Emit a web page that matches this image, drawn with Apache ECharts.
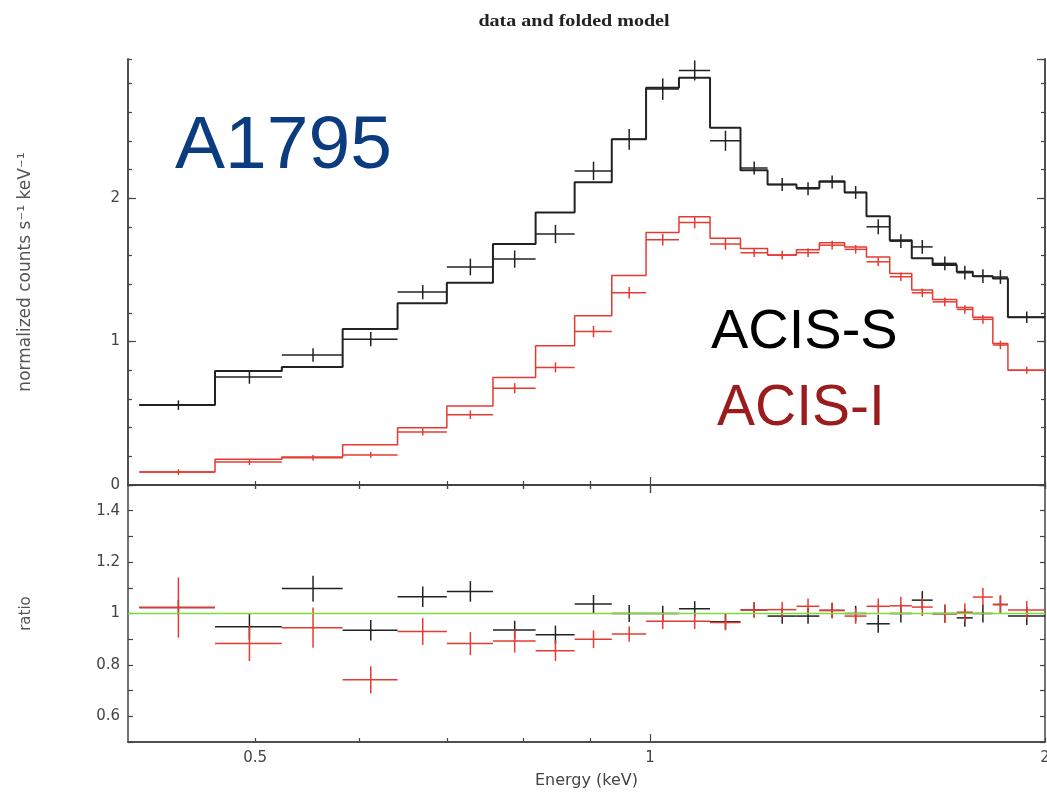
<!DOCTYPE html>
<html>
<head>
<meta charset="utf-8">
<script src="https://cdn.jsdelivr.net/npm/echarts@6/dist/echarts.min.js"></script>
<style>
  html, body { margin: 0; background: #fff; }
  #main { width: 1047px; height: 794px; }
</style>
</head>
<body>
<div id="main"></div>
<script>
// bin edges (keV)
const energyEdges = [0.408, 0.466, 0.524, 0.583, 0.642, 0.700, 0.759, 0.818, 0.876, 0.935,
  0.993, 1.052, 1.111, 1.172, 1.229, 1.293, 1.346, 1.407, 1.462, 1.523,
  1.583, 1.642, 1.713, 1.762, 1.825, 1.874, 2.0];
const energyRange = [0.4, 2];

// ACIS-S (black)
const acisSModel = [0.557, 0.794, 0.822, 1.087, 1.268, 1.41, 1.68, 1.90, 2.11, 2.41,
  2.77, 2.84, 2.49, 2.195, 2.095, 2.07, 2.118, 2.04, 1.874, 1.707,
  1.58, 1.533, 1.486, 1.456, 1.44, 1.169];
const acisSData = [0.557, 0.753, 0.906, 1.017, 1.345, 1.52, 1.575, 1.75, 2.19, 2.41,
  2.76, 2.89, 2.40, 2.21, 2.095, 2.065, 2.113, 2.04, 1.80, 1.70,
  1.66, 1.545, 1.48, 1.456, 1.45, 1.169];
const acisSErr = [0.033, 0.047, 0.047, 0.05, 0.05, 0.058, 0.06, 0.064, 0.064, 0.072,
  0.075, 0.07, 0.07, 0.045, 0.045, 0.045, 0.045, 0.045, 0.052, 0.048,
  0.048, 0.048, 0.048, 0.048, 0.048, 0.04];

// ACIS-I (red)
const acisIModel = [0.09, 0.18, 0.195, 0.28, 0.40, 0.55, 0.75, 0.97, 1.18, 1.46,
  1.76, 1.87, 1.72, 1.649, 1.603, 1.64, 1.689, 1.66, 1.59, 1.475,
  1.359, 1.294, 1.238, 1.169, 0.987, 0.80];
const acisIData = [0.09, 0.16, 0.19, 0.21, 0.37, 0.49, 0.675, 0.82, 1.07, 1.34,
  1.71, 1.83, 1.68, 1.619, 1.603, 1.62, 1.672, 1.643, 1.556, 1.452,
  1.34, 1.277, 1.224, 1.155, 0.976, 0.80];
const acisIErr = [0.02, 0.02, 0.02, 0.02, 0.025, 0.03, 0.035, 0.035, 0.04, 0.04,
  0.04, 0.04, 0.04, 0.03, 0.03, 0.03, 0.03, 0.03, 0.03, 0.03,
  0.03, 0.03, 0.03, 0.03, 0.03, 0.025];

// data / model ratios
const acisSRatio = [1.023, 0.948, 1.097, 0.935, 1.065, 1.086, 0.936, 0.917, 1.037, 1.0,
  1.0, 1.018, 0.968, 1.014, 0.99, 0.99, 1.012, 1.0, 0.96, 1.0,
  1.052, 1.0, 0.983, 1.0, 1.035, 0.99];
const acisSRatioErr = [0.03, 0.05, 0.05, 0.04, 0.04, 0.04, 0.036, 0.036, 0.035, 0.033,
  0.03, 0.03, 0.03, 0.03, 0.03, 0.03, 0.03, 0.03, 0.035, 0.035,
  0.035, 0.035, 0.035, 0.035, 0.035, 0.035];
const acisIRatio = [1.023, 0.883, 0.945, 0.742, 0.93, 0.883, 0.893, 0.855, 0.90, 0.92,
  0.97, 0.97, 0.965, 1.014, 1.015, 1.028, 1.012, 0.99, 1.028, 1.03,
  1.025, 0.998, 1.005, 1.064, 1.035, 1.014];
const acisIRatioErr = [0.117, 0.068, 0.078, 0.053, 0.052, 0.045, 0.045, 0.04, 0.034, 0.03,
  0.03, 0.03, 0.03, 0.03, 0.03, 0.03, 0.03, 0.03, 0.03, 0.035,
  0.035, 0.035, 0.035, 0.035, 0.035, 0.035];

// tick positions / labels
const energyMinorTicks = [0.5, 0.6, 0.7, 0.8, 0.9, 2];
const energyMajorTicks = [1];
const energyLabels = [0.5, 1, 2];
const ratioLabels = [0.6, 0.8, 1, 1.2, 1.4];

const BLACK = "#222";
const RED = "#e63a30";
const AXIS = "#444";

const toSteps = (model) => [
  ...model.map((v, i) => [energyEdges[i], v]),
  [energyEdges[model.length], model[model.length - 1]],
];
const toCrosses = (vals, errs) =>
  vals.map((v, i) => [energyEdges[i], energyEdges[i + 1], v, errs[i]]);

const drawCross = (color) => (params, api) => {
  const lo = api.value(0);
  const hi = api.value(1);
  const y = api.value(2);
  const err = api.value(3);
  const mid = (lo + hi) / 2;
  const left = api.coord([lo, y]);
  const right = api.coord([hi, y]);
  const top = api.coord([mid, y + err]);
  const bottom = api.coord([mid, y - err]);
  return {
    type: "group",
    children: [
      { type: "line", shape: { x1: left[0], y1: left[1], x2: right[0], y2: right[1] }, style: { stroke: color, lineWidth: 1.5 } },
      { type: "line", shape: { x1: top[0], y1: top[1], x2: bottom[0], y2: bottom[1] }, style: { stroke: color, lineWidth: 1.5 } },
    ],
  };
};

const labelFont = { fontFamily: "DejaVu Sans", fontSize: 15, color: AXIS };

const energyAxis = (gridIndex, position, ticks, length, extra) => ({
  type: "log",
  logBase: 10,
  gridIndex,
  position,
  min: energyRange[0],
  max: energyRange[1],
  axisLine: { show: true, lineStyle: { color: AXIS, width: 1.5 } },
  axisTick: { show: true, inside: true, length, customValues: ticks, lineStyle: { color: AXIS, width: 1.2 } },
  axisLabel: { show: false },
  splitLine: { show: false },
  ...extra,
});

const valueAxis = (gridIndex, position, min, max, interval, length, extra) => ({
  type: "value",
  gridIndex,
  position,
  min,
  max,
  interval,
  axisLine: { show: true, lineStyle: { color: AXIS, width: 1.5 } },
  axisTick: { show: true, inside: true, length, lineStyle: { color: AXIS, width: 1.2 } },
  axisLabel: { show: false },
  splitLine: { show: false },
  ...extra,
});

const option = {
  animation: false,
  backgroundColor: "#fff",
  grid: [
    { left: 128, right: 2, top: 59, height: 426, outerBoundsMode: "none" },
    { left: 128, right: 2, top: 485, height: 257, outerBoundsMode: "none" },
  ],
  xAxis: [
    energyAxis(0, "bottom", energyMinorTicks, 4),
    energyAxis(0, "top", energyMinorTicks, 4),
    energyAxis(0, "bottom", energyMajorTicks, 8),
    energyAxis(0, "top", energyMajorTicks, 8),
    energyAxis(1, "bottom", energyMinorTicks, 4),
    energyAxis(1, "top", energyMinorTicks, 4),
    energyAxis(1, "bottom", energyMajorTicks, 8, {
      axisLabel: { show: true, customValues: energyLabels, margin: 9, formatter: (v) => String(v), ...labelFont },
      name: "Energy (keV)",
      nameLocation: "middle",
      nameGap: 31,
      nameTextStyle: { fontFamily: "DejaVu Sans", fontSize: 16, color: AXIS },
    }),
    energyAxis(1, "top", energyMajorTicks, 8),
  ],
  yAxis: [
    valueAxis(0, "left", 0, 2.97, 1, 8, {
      axisLabel: { show: true, showMaxLabel: false, margin: 8, ...labelFont },
      name: "normalized counts s⁻¹ keV⁻¹",
      nameLocation: "middle",
      nameGap: 94,
      nameTextStyle: { fontFamily: "DejaVu Sans", fontSize: 17, color: "#555" },
    }),
    valueAxis(0, "left", 0, 2.97, 0.2, 4),
    valueAxis(0, "right", 0, 2.97, 1, 8),
    valueAxis(0, "right", 0, 2.97, 0.2, 4),
    valueAxis(1, "left", 0.5, 1.5, 0.1, 5, {
      axisLabel: {
        show: true,
        margin: 8,
        ...labelFont,
        formatter: (v) => {
          const r = Math.round(v * 10) / 10;
          return ratioLabels.includes(r) ? String(r) : "";
        },
      },
      name: "ratio",
      nameLocation: "middle",
      nameGap: 94,
      nameTextStyle: { fontFamily: "DejaVu Sans", fontSize: 15, color: "#555" },
    }),
    valueAxis(1, "right", 0.5, 1.5, 0.1, 5),
  ],
  graphic: [
    {
      type: "text",
      x: 574,
      y: 22,
      scaleX: 1.18,
      style: { text: "data and folded model", font: 'bold 17px "Liberation Serif"', fill: "#222", align: "center", verticalAlign: "middle" },
    },
    {
      type: "text",
      x: 175,
      y: 147,
      style: { text: "A1795", font: '75px "Liberation Sans"', fill: "#0c3c80", align: "left", verticalAlign: "middle" },
    },
    {
      type: "text",
      x: 711,
      y: 333,
      style: { text: "ACIS-S", font: '56px "Liberation Sans"', fill: "#000", align: "left", verticalAlign: "middle" },
    },
    {
      type: "text",
      x: 717,
      y: 409,
      style: { text: "ACIS-I", font: '57px "Liberation Sans"', fill: "#9b1c1c", align: "left", verticalAlign: "middle" },
    },
  ],
  series: [
    {
      name: "ACIS-S model",
      type: "line",
      step: "end",
      xAxisIndex: 0,
      yAxisIndex: 0,
      symbol: "none",
      lineStyle: { color: BLACK, width: 2 },
      data: toSteps(acisSModel),
    },
    {
      name: "ACIS-S data",
      type: "custom",
      xAxisIndex: 0,
      yAxisIndex: 0,
      encode: { x: [0, 1], y: [2] },
      renderItem: drawCross(BLACK),
      data: toCrosses(acisSData, acisSErr),
    },
    {
      name: "ACIS-I model",
      type: "line",
      step: "end",
      xAxisIndex: 0,
      yAxisIndex: 0,
      symbol: "none",
      lineStyle: { color: RED, width: 1.5 },
      data: toSteps(acisIModel),
    },
    {
      name: "ACIS-I data",
      type: "custom",
      xAxisIndex: 0,
      yAxisIndex: 0,
      encode: { x: [0, 1], y: [2] },
      renderItem: drawCross(RED),
      data: toCrosses(acisIData, acisIErr),
    },
    {
      name: "unity",
      type: "line",
      xAxisIndex: 4,
      yAxisIndex: 4,
      symbol: "none",
      lineStyle: { color: "#7ddb3c", width: 1.5 },
      data: energyRange.map((e) => [e, 1]),
    },
    {
      name: "ACIS-S ratio",
      type: "custom",
      xAxisIndex: 4,
      yAxisIndex: 4,
      encode: { x: [0, 1], y: [2] },
      renderItem: drawCross(BLACK),
      data: toCrosses(acisSRatio, acisSRatioErr),
    },
    {
      name: "ACIS-I ratio",
      type: "custom",
      xAxisIndex: 4,
      yAxisIndex: 4,
      encode: { x: [0, 1], y: [2] },
      renderItem: drawCross(RED),
      data: toCrosses(acisIRatio, acisIRatioErr),
    },
  ],
};

const myChart = echarts.init(document.getElementById("main"));
myChart.setOption(option);
</script>
</body>
</html>
